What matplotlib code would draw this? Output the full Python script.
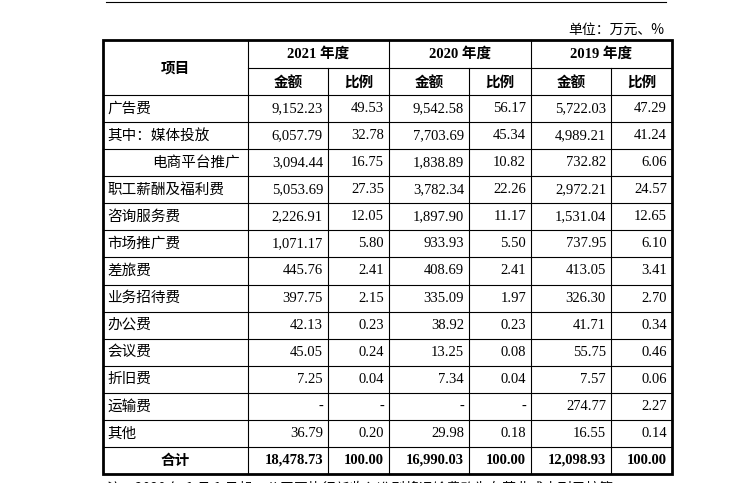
import matplotlib
matplotlib.use("Agg")
import matplotlib.pyplot as plt

items = ["广告费", "其中：媒体投放", "电商平台推广", "职工薪酬及福利费", "咨询服务费",
         "市场推广费", "差旅费", "业务招待费", "办公费", "会议费", "折旧费", "运输费", "其他"]
amt_2021 = ["9,152.23", "6,057.79", "3,094.44", "5,053.69", "2,226.91", "1,071.17", "445.76",
            "397.75", "42.13", "45.05", "7.25", "-", "36.79"]
pct_2021 = ["49.53", "32.78", "16.75", "27.35", "12.05", "5.80", "2.41", "2.15", "0.23",
            "0.24", "0.04", "-", "0.20"]
amt_2020 = ["9,542.58", "7,703.69", "1,838.89", "3,782.34", "1,897.90", "933.93", "408.69",
            "335.09", "38.92", "13.25", "7.34", "-", "29.98"]
pct_2020 = ["56.17", "45.34", "10.82", "22.26", "11.17", "5.50", "2.41", "1.97", "0.23",
            "0.08", "0.04", "-", "0.18"]
amt_2019 = ["5,722.03", "4,989.21", "732.82", "2,972.21", "1,531.04", "737.95", "413.05",
            "326.30", "41.71", "55.75", "7.57", "274.77", "16.55"]
pct_2019 = ["47.29", "41.24", "6.06", "24.57", "12.65", "6.10", "3.41", "2.70", "0.34",
            "0.46", "0.06", "2.27", "0.14"]
totals = ["18,478.73", "100.00", "16,990.03", "100.00", "12,098.93", "100.00"]
years = ["2021 年度", "2020 年度", "2019 年度"]

CJK = ["Noto Sans CJK SC", "DejaVu Sans"]
SERIF = ["Liberation Serif", "Noto Sans CJK SC"]

fig = plt.figure(figsize=(7.5, 4.83), dpi=100)
ax = fig.add_axes([0, 0, 1, 1])
ax.set_xlim(0, 750)
ax.set_ylim(483, 0)
ax.axis("off")

cols = [103, 248, 328, 389, 469, 531, 611, 672]
top, h1, h2 = 40, 68, 95
bottom = 474
n_rows = len(items) + 1
row_h = (bottom - h2) / n_rows
row_y = [h2 + i * row_h for i in range(n_rows + 1)]

thin = dict(color="black", lw=0.8)
# top rule and unit
ax.plot([106, 666], [2, 2], **thin)
ax.text(664, 30, "单位：万元、%", ha="right", va="center", fontsize=10, family=CJK)

# grid lines
ax.plot([cols[1], cols[-1]], [h1, h1], **thin)
for y in [h2] + row_y[1:-1]:
    ax.plot([cols[0], cols[-1]], [y, y], **thin)
for x in cols[1:-1]:
    y0 = h1 if x in (cols[2], cols[4], cols[6]) else top
    ax.plot([x, x], [y0, bottom], **thin)
ax.add_patch(plt.Rectangle((cols[0], top), cols[-1] - cols[0], bottom - top,
                           fill=False, lw=2, ec="black"))

# headers
ax.text((cols[0] + cols[1]) / 2, (top + h2) / 2, "项目", ha="center", va="center",
        fontsize=10.5, family=CJK, weight="bold")
for i, yr in enumerate(years):
    xc = (cols[1 + 2 * i] + cols[3 + 2 * i]) / 2
    ax.text(xc, (top + h1) / 2, yr, ha="center", va="center", fontsize=10.5,
            family=SERIF, weight="bold")
    for j, lab in enumerate(["金额", "比例"]):
        ax.text((cols[1 + 2 * i + j] + cols[2 + 2 * i + j]) / 2, (h1 + h2) / 2, lab,
                ha="center", va="center", fontsize=10.5, family=CJK, weight="bold")

# body
series = [amt_2021, pct_2021, amt_2020, pct_2020, amt_2019, pct_2019]
for r, name in enumerate(items):
    yc = (row_y[r] + row_y[r + 1]) / 2
    x0 = 152 if name == "电商平台推广" else 107
    ax.text(x0, yc, name, ha="left", va="center", fontsize=10.5, family=CJK)
    for c, vals in enumerate(series):
        ax.text(cols[c + 2] - 5, yc, vals[r], ha="right", va="center", fontsize=10.5,
                family=SERIF)

yc = (row_y[-2] + row_y[-1]) / 2
ax.text((cols[0] + cols[1]) / 2, yc, "合计", ha="center", va="center", fontsize=10.5,
        family=CJK, weight="bold")
for c, v in enumerate(totals):
    ax.text(cols[c + 2] - 5, yc, v, ha="right", va="center", fontsize=10.5,
            family=SERIF, weight="bold")

ax.text(107, 488, "注：2020 年 1 月 1 日起，公司因执行新收入准则将运输费改为在营业成本列示核算",
        ha="left", va="center", fontsize=10, family=CJK)

fig.savefig("out.png", dpi=100)
